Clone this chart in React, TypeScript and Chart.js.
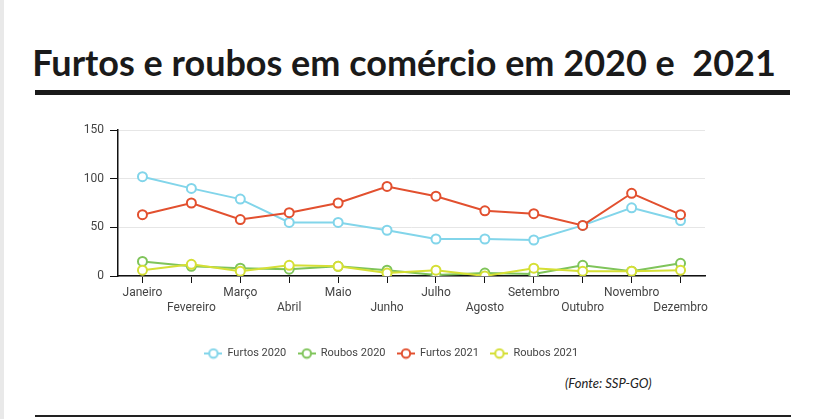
import React, { useEffect, useRef } from "react";
import { Chart, registerables } from "chart.js";

Chart.register(...registerables);

const months = ["Janeiro", "Fevereiro", "Março", "Abril", "Maio", "Junho", "Julho", "Agosto", "Setembro", "Outubro", "Novembro", "Dezembro"];
const furtos2020 = [102, 90, 79, 55, 55, 47, 38, 38, 37, 52, 70, 57];
const roubos2020 = [15, 10, 8, 7, 10, 6, 1, 3, 2, 11, 5, 13];
const furtos2021 = [63, 75, 58, 65, 75, 92, 82, 67, 64, 52, 85, 63];
const roubos2021 = [6, 12, 5, 11, 10, 3, 6, 0, 8, 5, 5, 6];
const yTicks = [0, 50, 100, 150];

const seriesNames = ["Furtos 2020", "Roubos 2020", "Furtos 2021", "Roubos 2021"];
const seriesColors = ["#82d5ea", "#7fc45a", "#e2502f", "#d5df35"];

function legendIcon(color: string): HTMLCanvasElement {
  const c = document.createElement("canvas");
  c.width = 18;
  c.height = 12;
  const ctx = c.getContext("2d")!;
  ctx.strokeStyle = color;
  ctx.lineWidth = 2;
  ctx.beginPath();
  ctx.moveTo(0, 6);
  ctx.lineTo(18, 6);
  ctx.stroke();
  ctx.beginPath();
  ctx.arc(9, 6, 4.2, 0, Math.PI * 2);
  ctx.fillStyle = "#fff";
  ctx.fill();
  ctx.stroke();
  return c;
}

export default function App() {
  const ref = useRef<HTMLCanvasElement>(null);
  useEffect(() => {
    const values = [furtos2020, roubos2020, furtos2021, roubos2021];
    const orders = [3, 2, 1, 0];
    const chart = new Chart(ref.current!, {
      type: "line",
      data: {
        labels: months,
        datasets: values.map((v, i) => ({
          label: seriesNames[i],
          data: v,
          borderColor: seriesColors[i],
          backgroundColor: "#fff",
          pointBackgroundColor: "#fff",
          pointBorderColor: seriesColors[i],
          pointBorderWidth: 2,
          pointRadius: 4.5,
          borderWidth: 2,
          tension: 0,
          order: orders[i],
          pointStyle: "circle",
        })),
      },
      options: {
        animation: false,
        responsive: false,
        maintainAspectRatio: false,
        layout: { padding: { left: 38, right: 45, top: 15, bottom: 0 } },
        plugins: {
          tooltip: { enabled: false },
          legend: {
            position: "bottom",
            labels: {
              usePointStyle: true,
              pointStyleWidth: 17,
              padding: 12,
              color: "#444",
              font: { family: "Roboto", size: 11 },
              sort: (a: any, b: any) => a.datasetIndex - b.datasetIndex,
              generateLabels: (chart: any) =>
                chart.data.datasets.map((d: any, i: number) => ({
                  text: d.label,
                  datasetIndex: i,
                  pointStyle: legendIcon(seriesColors[i]),
                  fillStyle: "#fff",
                  strokeStyle: seriesColors[i],
                  lineWidth: 0,
                  hidden: false,
                  fontColor: "#444",
                })),
            },
          },
        },
        scales: {
          x: {
            offset: true,
            afterFit: (s: any) => {
              s.height = 60;
            },
            grid: {
              display: true,
              drawOnChartArea: false,
              drawTicks: true,
              tickLength: 7,
              tickColor: "#111",
              offset: false,
            },
            border: { color: "#111", width: 1.5 },
            ticks: {
              autoSkip: false,
              maxRotation: 0,
              minRotation: 0,
              padding: 3,
              color: "#444",
              font: { family: "Roboto", size: 12 },
              callback: (_v: any, i: number) => (i % 2 === 1 ? ["", months[i]] : months[i]),
            },
          },
          y: {
            min: 0,
            max: 150,
            afterFit: (s: any) => {
              s.width = 40;
            },
            afterBuildTicks: (s: any) => {
              s.ticks = yTicks.map((v) => ({ value: v }));
            },
            grid: {
              color: "#e6e6e6",
              tickColor: "#111",
              tickLength: 8,
              lineWidth: 1,
            },
            border: { color: "#111", width: 1.5 },
            ticks: {
              padding: 6,
              color: "#444",
              font: { family: "Roboto", size: 12 },
            },
          },
        },
      },
    });
    return () => chart.destroy();
  }, []);

  return (
    <div style={{ position: "absolute", left: 0, top: 0, width: 821, height: 419, background: "#fff", overflow: "hidden" }}>
      <div style={{ position: "absolute", left: 0, top: 0, width: 4, height: 419, background: "#e9e9e9" }} />
      <div
        style={{
          position: "absolute",
          left: 0,
          width: 808,
          top: 39,
          textAlign: "center",
          fontFamily: "Lato",
          fontWeight: 700,
          fontSize: 36,
          lineHeight: "46px",
          color: "#1a1a1a",
          whiteSpace: "pre",
        }}
      >
        {"Furtos e roubos em comércio em 2020 e  2021"}
      </div>
      <div style={{ position: "absolute", left: 35, top: 90, width: 755, height: 5, background: "#1a1a1a" }} />
      <canvas ref={ref} width={710} height={254} style={{ position: "absolute", left: 40, top: 115, width: 710, height: 254 }} />
      <div
        style={{
          position: "absolute",
          left: 565,
          top: 375,
          fontFamily: "Lato",
          fontStyle: "italic",
          fontSize: 13,
          color: "#222",
        }}
      >
        (Fonte: SSP-GO)
      </div>
      <div style={{ position: "absolute", left: 35, top: 415, width: 756, height: 1.5, background: "#222" }} />
    </div>
  );
}
